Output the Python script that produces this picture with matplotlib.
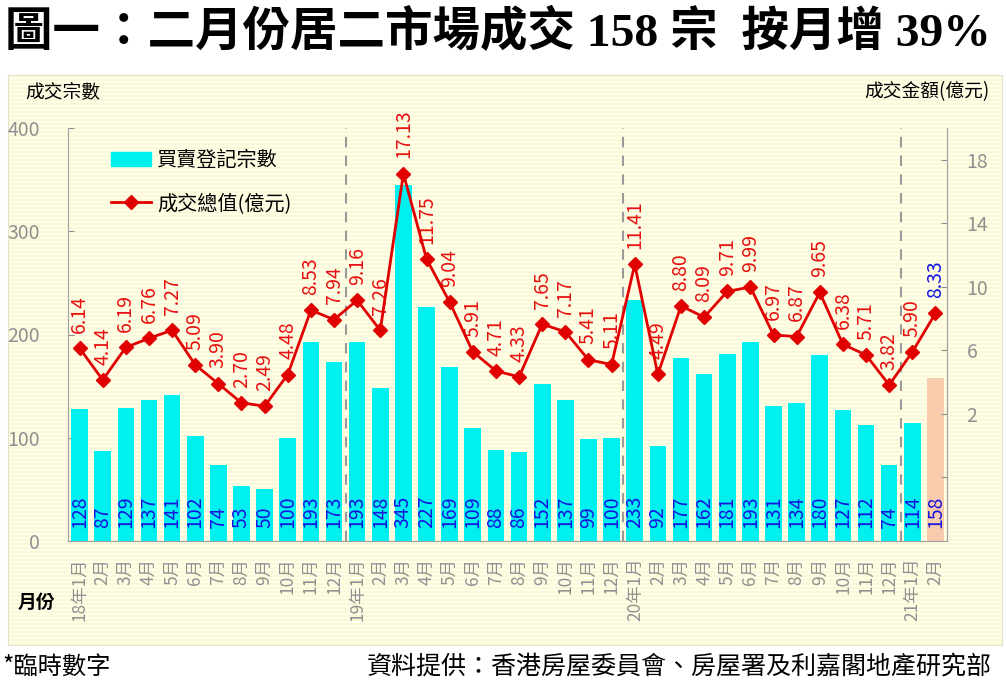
import numpy as np
import matplotlib.pyplot as plt
from matplotlib.colors import ListedColormap
from matplotlib.patches import Patch
from matplotlib.lines import Line2D

plt.rcParams['font.family'] = ['Noto Sans CJK TC', 'DejaVu Sans']

# 月份標籤
months = ['18年1月'] + [f'{m}月' for m in range(2, 13)] + \
         ['19年1月'] + [f'{m}月' for m in range(2, 13)] + \
         ['20年1月'] + [f'{m}月' for m in range(2, 13)] + \
         ['21年1月', '2月']

# 買賣登記宗數
counts = [128, 87, 129, 137, 141, 102, 74, 53, 50, 100, 193, 173,
          193, 148, 345, 227, 169, 109, 88, 86, 152, 137, 99, 100,
          233, 92, 177, 162, 181, 193, 131, 134, 180, 127, 112, 74,
          114, 158]

# 成交總值(億元)
values = [6.14, 4.14, 6.19, 6.76, 7.27, 5.09, 3.90, 2.70, 2.49, 4.48, 8.53, 7.94,
          9.16, 7.26, 17.13, 11.75, 9.04, 5.91, 4.71, 4.33, 7.65, 7.17, 5.41, 5.11,
          11.41, 4.49, 8.80, 8.09, 9.71, 9.99, 6.97, 6.87, 9.65, 6.38, 5.71, 3.82,
          5.90, 8.33]

W, H = 1006, 687
fig = plt.figure(figsize=(W / 100, H / 100), dpi=100)

# 背景橫紋
bg = fig.add_axes([8 / W, 1 - 645 / H, (1002 - 8) / W, (645 - 75) / H])
rows = 570 // 2
stripe = np.array([[1.0], [0.0]] * (rows // 2 + 1))[:rows]
bg.imshow(stripe, aspect='auto', cmap=ListedColormap(['#fffff0', '#fbf8d2']),
          interpolation='nearest', extent=[0, 1, 0, 1])
bg.set_xticks([])
bg.set_yticks([])
for s in bg.spines.values():
    s.set_color('#e4e2cc')

ax = fig.add_axes([68 / W, 1 - 541 / H, (947 - 68) / W, (541 - 128) / H])
ax.set_facecolor('none')
x = np.arange(len(counts))
colors = ['#00f0f0'] * (len(counts) - 1) + ['#f8cbad']
ax.bar(x, counts, width=0.72, color=colors, zorder=2)
ax.set_xlim(-0.5, len(counts) - 0.5)
ax.set_ylim(0, 400)
ax.set_yticks(range(0, 401, 100))
ax.tick_params(axis='y', direction='in', length=4, colors='#909090', labelsize=14, pad=20)
ax.set_xticks(x)
ax.set_xticklabels(months, rotation=90, va='top')
ax.tick_params(axis='x', length=0, pad=12, colors='#909090', labelsize=12.5)
ax.spines['top'].set_visible(False)
for s in ['left', 'bottom', 'right']:
    ax.spines[s].set_color('#a0a0a0')

for i, c in enumerate(counts):
    ax.annotate(str(c), (i, 0), xytext=(0, 9), textcoords='offset points',
                rotation=90, ha='center', va='bottom', color='#1515e0', fontsize=14, zorder=3)

# 年份分隔虛線
for b in [11.5, 23.5, 35.5]:
    ax.axvline(b, color='#9a9a9a', linestyle=(0, (5, 4)), linewidth=1.5, zorder=1)

ax2 = ax.twinx()
ax2.set_ylim(-6, 20)
ax2.set_yticks([-2, 2, 6, 10, 14, 18])
ax2.set_yticklabels(['', '2', '6', '10', '14', '18'])
ax2.tick_params(axis='y', direction='in', length=4, colors='#909090', labelsize=14, pad=14)
ax2.spines['top'].set_visible(False)
ax2.spines['right'].set_color('#a0a0a0')
ax2.spines['left'].set_visible(False)
ax2.spines['bottom'].set_visible(False)
ax2.plot(x, values, color='#e00000', linewidth=2, marker='D', markersize=7, zorder=4)

for i, v in enumerate(values):
    col = '#1515e0' if i == len(values) - 1 else '#e81010'
    ax2.annotate(f'{v:.2f}', (i, v), xytext=(0, 11), textcoords='offset points',
                 rotation=90, ha='center', va='bottom', color=col, fontsize=14)

handles = [Patch(color='#00f0f0'),
           Line2D([], [], color='#e00000', linewidth=2, marker='D', markersize=7)]
ax2.legend(handles, ['買賣登記宗數', '成交總值(億元)'], loc='upper left',
           bbox_to_anchor=(0.028, 0.99), frameon=False, fontsize=14.5,
           labelspacing=1.1, handlelength=2.0, handletextpad=0.3)

fig.text(25 / W, 1 - 92 / H, '成交宗數', fontsize=13.5, va='center', ha='left')
fig.text(990 / W, 1 - 92 / H, '成交金額(億元)', fontsize=13.5, va='center', ha='right')
fig.text(18 / W, 1 - 602 / H, '月份', fontsize=13.5, va='center', ha='left', fontweight='bold')

fig.text(5 / W, 1 - 33 / H, '圖一：二月份居二市場成交 158 宗  按月增 39%',
         family=['Liberation Serif', 'Noto Sans CJK TC'], fontweight='bold',
         fontsize=34.2, va='center', ha='left')
fig.text(2 / W, 1 - 667 / H, '*臨時數字', fontsize=17.5, va='center', ha='left')
fig.text(992 / W, 1 - 667 / H, '資料提供：香港房屋委員會、房屋署及利嘉閣地產研究部',
         fontsize=18, va='center', ha='right')

fig.savefig('out.png', dpi=100)
